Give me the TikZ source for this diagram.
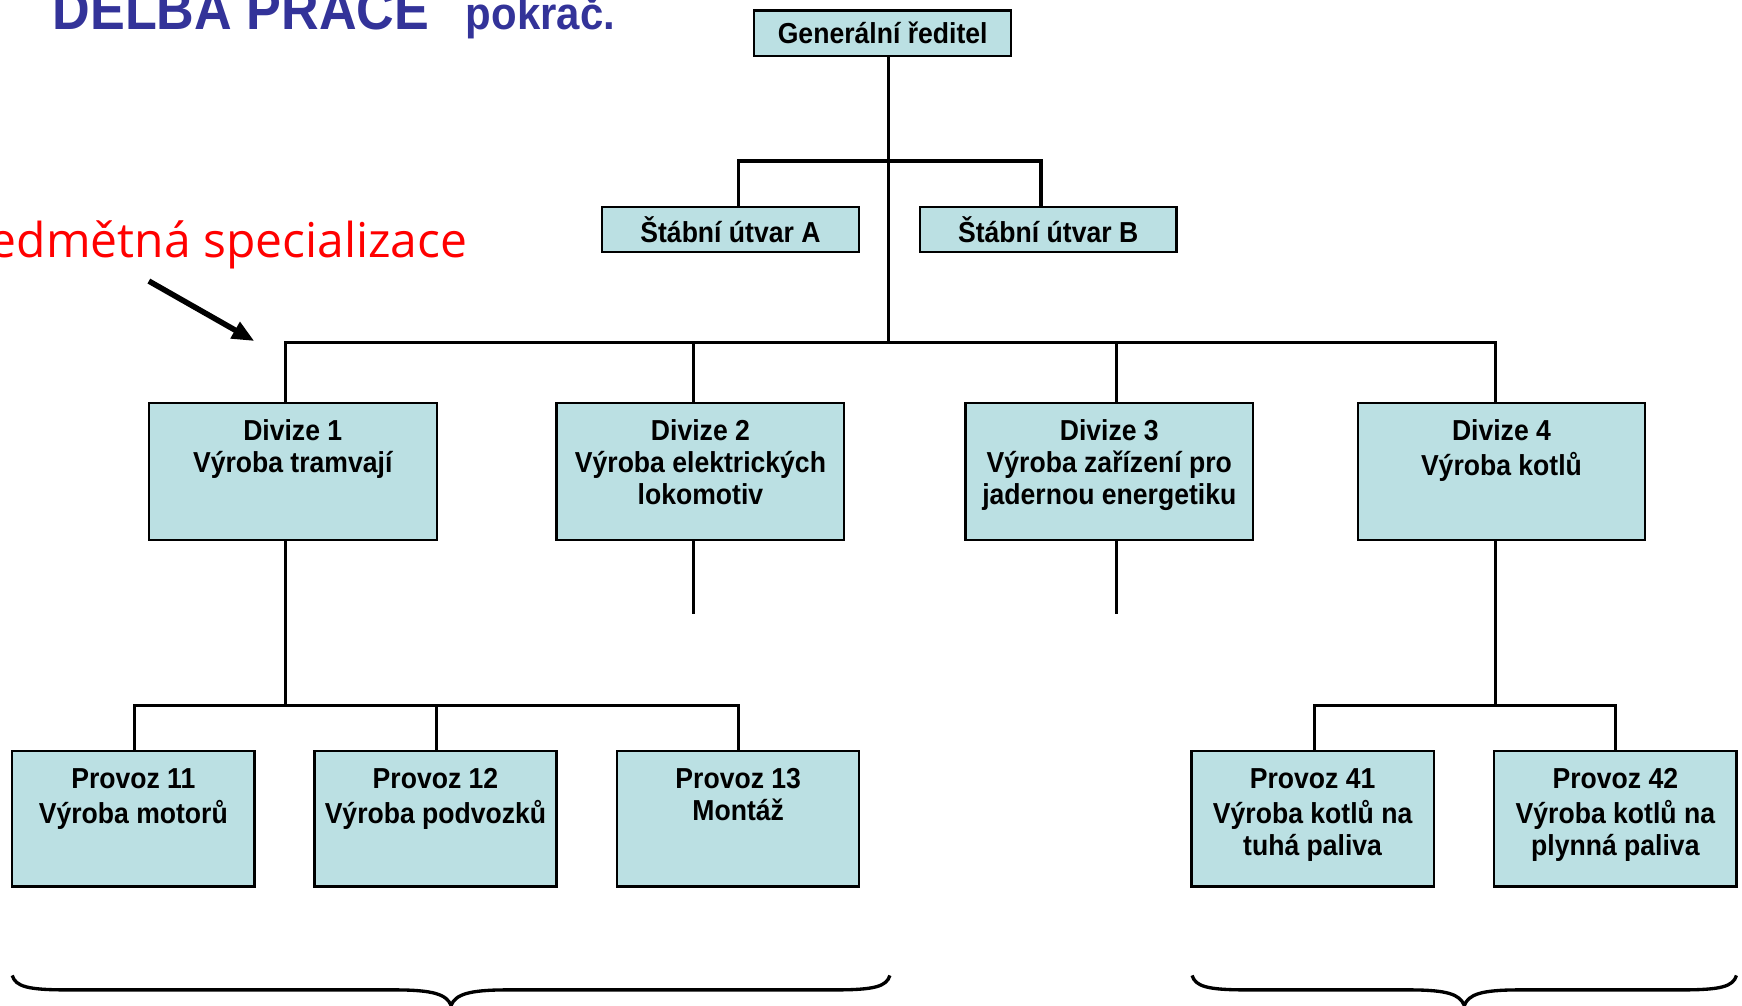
\documentclass[tikz,border=0pt]{standalone}
\usepackage{fontspec}
\setmainfont{Liberation Sans}[FakeStretch=0.92]
\newfontfamily\redfnt{Open Sans}
\usetikzlibrary{arrows.meta}
\definecolor{boxblue}{RGB}{187,224,227}
\definecolor{titleblue}{RGB}{51,51,153}
\begin{document}
\begin{tikzpicture}[x=0.5pt,y=-0.5pt,
  stdbox/.style={draw=black, line width=1pt, fill=boxblue, inner sep=0pt, outer sep=0pt},
  smallbox/.style={stdbox, minimum width=115.5pt, minimum height=20.5pt, font=\bfseries\fontsize{13}{14.5}\selectfont},
  divbox/.style={stdbox, minimum width=129.5pt, minimum height=61.5pt},
  provbox/.style={stdbox, minimum width=109pt, minimum height=61pt},
  boxtext/.style={font=\bfseries\fontsize{13}{14.5}\selectfont, align=center, anchor=north, inner sep=0pt},
  conn/.style={line width=1.5pt, line join=miter},
  bracestyle/.style={line width=1.5pt}]
\useasboundingbox (0,0) rectangle (1568,905);

% titles
\node[font=\bfseries\fontsize{25.5}{30}\selectfont, text=titleblue, anchor=base west, inner sep=0pt] (title) at (47,27) {DĚLBA PRÁCE};
\node[font=\bfseries\fontsize{20.5}{24}\selectfont, text=titleblue, anchor=base west, inner sep=0pt] (title2) at (419,27) {pokrač.};
\node[font=\redfnt\fontsize{21.6}{26}\selectfont, text=red, anchor=base east, inner sep=0pt] (spec) at (421,232) {Předmětná specializace};

% boxes
\node[smallbox] (gr) at (794.5,30) {Generální ředitel};
\node[smallbox] (sa) at (657.5,206.5) {Štábní útvar A};
\node[smallbox] (sb) at (943.5,206.5) {Štábní útvar B};

\node[divbox] (d1) at (263.5,424.5) {};
\node[divbox] (d2) at (630.5,424.5) {};
\node[divbox] (d3) at (998.5,424.5) {};
\node[divbox] (d4) at (1351.5,424.5) {};
\node[boxtext] (d1t) at ([yshift=-6.35pt]d1.north) {\strut Divize 1\\\strut Výroba tramvají};
\node[boxtext] (d2t) at ([yshift=-6.35pt]d2.north) {\strut Divize 2\\\strut Výroba elektrických\\\strut lokomotiv};
\node[boxtext] (d3t) at ([yshift=-6.35pt]d3.north) {\strut Divize 3\\\strut Výroba zařízení pro\\\strut jadernou energetiku};
\node[boxtext] (d4t) at ([yshift=-6.35pt]d4.north) {\strut Divize 4\\\strut Výroba kotlů};

\node[provbox] (p11) at (120,737) {};
\node[provbox] (p12) at (392,737) {};
\node[provbox] (p13) at (664.5,737) {};
\node[provbox] (p41) at (1181.5,737) {};
\node[provbox] (p42) at (1454,737) {};
\node[boxtext] (p11t) at ([yshift=-6.35pt]p11.north) {\strut Provoz 11\\\strut Výroba motorů};
\node[boxtext] (p12t) at ([yshift=-6.35pt]p12.north) {\strut Provoz 12\\\strut Výroba podvozků};
\node[boxtext] (p13t) at ([yshift=-6.35pt]p13.north) {\strut Provoz 13\\\strut Montáž};
\node[boxtext] (p41t) at ([yshift=-6.35pt]p41.north) {\strut Provoz 41\\\strut Výroba kotlů na\\\strut tuhá paliva};
\node[boxtext] (p42t) at ([yshift=-6.35pt]p42.north) {\strut Provoz 42\\\strut Výroba kotlů na\\\strut plynná paliva};

% connector coordinates
\coordinate (trunk) at (800,308);
\coordinate (staff) at (800,145);
\coordinate (xA) at (665,0);
\coordinate (xB) at (937,0);
\coordinate (x1) at (257,0);
\coordinate (x2) at (624,0);
\coordinate (x3) at (1005,0);
\coordinate (x4) at (1346,0);
\coordinate (bar1) at (257,635);
\coordinate (bar4) at (1346,635);
\coordinate (x11) at (121,0);
\coordinate (x12) at (393,0);
\coordinate (x13) at (665,0);
\coordinate (x41) at (1183,0);
\coordinate (x42) at (1454,0);
\coordinate (s2) at (624,553);
\coordinate (s3) at (1005,553);

% connectors
\draw[conn] (gr.south -| trunk) -- (trunk);
\draw[conn] (sa.north -| xA) -- (xA |- staff) -- (xB |- staff) -- (sb.north -| xB);
\draw[conn] (d1.north -| x1) -- (x1 |- trunk) -- (x4 |- trunk) -- (d4.north -| x4);
\draw[conn] (x2 |- trunk) -- (d2.north -| x2);
\draw[conn] (x3 |- trunk) -- (d3.north -| x3);
\draw[conn] (d2.south -| s2) -- (s2);
\draw[conn] (d3.south -| s3) -- (s3);
\draw[conn] (d1.south -| bar1) -- (bar1);
\draw[conn] (p11.north -| x11) -- (x11 |- bar1) -- (x13 |- bar1) -- (p13.north -| x13);
\draw[conn] (x12 |- bar1) -- (p12.north -| x12);
\draw[conn] (d4.south -| bar4) -- (bar4);
\draw[conn] (p41.north -| x41) -- (x41 |- bar4) -- (x42 |- bar4) -- (p42.north -| x42);

% arrow
\coordinate (ar1) at (134,253);
\coordinate (ar2) at (229,307);
\draw[line width=2.5pt, -{Triangle[length=10pt,width=8pt]}] (ar1) -- (ar2);

% braces
\draw[bracestyle] (11,878) .. controls (14,888) and (25,891) .. (60,891) -- (355,891)
  .. controls (390,891) and (402,895) .. (406,905)
  .. controls (410,895) and (422,891) .. (457,891) -- (752,891)
  .. controls (787,891) and (798,888) .. (801,878);
\draw[bracestyle] (1073,878) .. controls (1076,888) and (1087,891) .. (1122,891) -- (1268,891)
  .. controls (1303,891) and (1314,895) .. (1318,905)
  .. controls (1322,895) and (1333,891) .. (1368,891) -- (1514,891)
  .. controls (1549,891) and (1560,888) .. (1563,878);
\end{tikzpicture}
\end{document}
